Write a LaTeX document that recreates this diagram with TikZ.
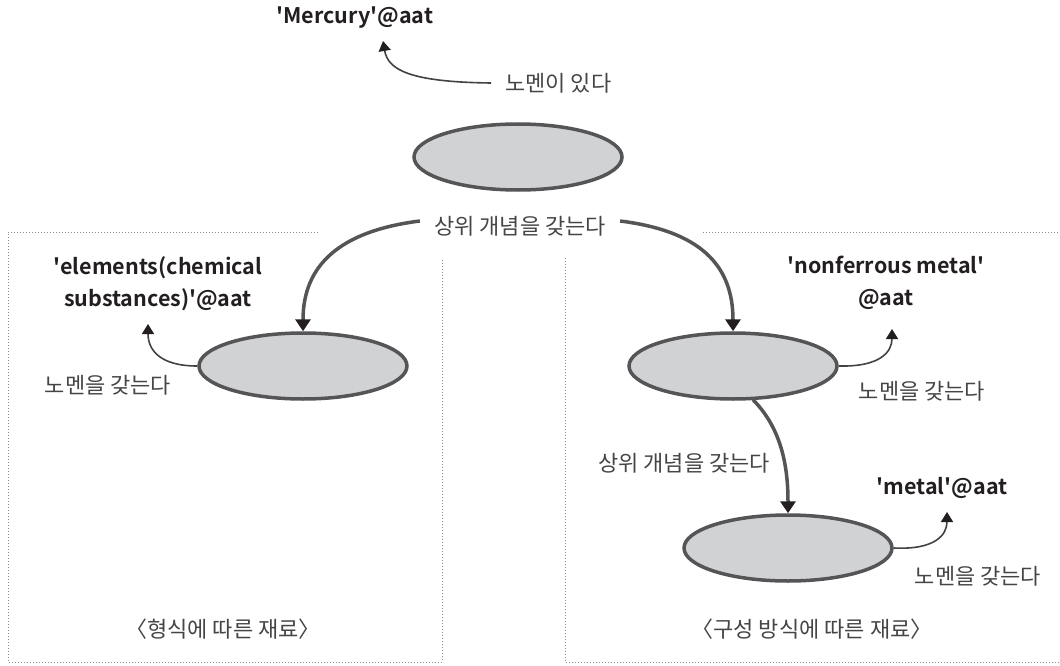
\documentclass[tikz,border=0pt]{standalone}
\usepackage{fontspec}
\setmainfont{Noto Sans CJK KR}
\newfontfamily\boldlbl{Noto Sans CJK KR Bold}
\usetikzlibrary{arrows.meta,shapes.geometric}
\definecolor{edgegray}{HTML}{555557}
\definecolor{fillgray}{HTML}{D1D2D4}
\definecolor{txtgray}{HTML}{454547}
\definecolor{inkdark}{HTML}{231F20}
\definecolor{dotgray}{HTML}{8A8A8C}
\begin{document}
\begin{tikzpicture}[x=1pt,y=-1pt,
  concept/.style={ellipse,draw=edgegray,fill=fillgray,line width=3.5pt,
    minimum width=208pt,minimum height=66pt,inner sep=0pt},
  rel/.style={text=txtgray,font=\fontsize{22}{24}\selectfont,inner sep=0pt},
  term/.style={text=inkdark,font=\boldlbl\fontsize{21.5}{32}\selectfont,
    align=center,inner sep=0pt},
  caption/.style={text=txtgray,font=\fontsize{22}{24}\selectfont,inner sep=0pt},
  bigarrow/.style={draw=edgegray,line width=3.5pt,
    -{Triangle[width=15pt,length=12pt,fill=inkdark,color=inkdark]}},
  smallarrow/.style={draw=inkdark!85,line width=1.6pt,
    -{Triangle[width=12pt,length=10pt,fill=inkdark,color=inkdark]}},
  frame/.style={draw=dotgray,line width=1pt,dash pattern=on 1pt off 2pt}]
\useasboundingbox (0,0) rectangle (1060,666);

% dotted frames of the two groups
\draw[frame] (318,232) -- (8,232) -- (8,662) -- (442,662) -- (442,260);
\draw[frame] (703,232) -- (1060,232);
\draw[frame] (565,258) -- (565,662) -- (1060,662);

% concept ellipses
\node[concept] (top) at (518,157) {};
\node[concept] (left) at (303,366) {};
\node[concept] (right) at (733,366) {};
\node[concept] (low) at (788,548) {};

% terms
\node[term] (mercury) at (355,18) {'Mercury'@aat};
\node[term] (elements) at (158,284) {'elements(chemical\\substances)'@aat};
\node[term] (nonfer) at (886,283) {'nonferrous metal'\\@aat};
\node[term] (metal) at (942,488) {'metal'@aat};

% relation labels
\node[rel,anchor=west] (hasname) at (505,83) {노멘이 있다};
\node[rel] (broader) at (520,226) {상위 개념을 갖는다};
\node[rel] (nameL) at (108,385) {노멘을 갖는다};
\node[rel] (nameR) at (922,391) {노멘을 갖는다};
\node[rel] (broader2) at (684,463) {상위 개념을 갖는다};
\node[rel] (nameLow) at (978,576) {노멘을 갖는다};

% captions
\node[caption] (capL) at (223,629) {〈형식에 따른 재료〉};
\node[caption] (capR) at (812,629) {〈구성 방식에 따른 재료〉};

% arrow ends next to the terms
\coordinate (tipM) at (383,41);
\coordinate (tipE) at (148,324);
\coordinate (tipN) at (892,329);
\coordinate (tipT) at (947,512);

% broader-concept arrows
\draw[bigarrow] ([xshift=-14pt,yshift=5pt]broader.west) .. controls (340,231) and (303,265) .. (left.north);
\draw[bigarrow] ([xshift=14pt,yshift=5pt]broader.east) .. controls (700,231) and (733,265) .. (right.north);
\draw[bigarrow] (right.south) ++(20,-1) .. controls (783,430) and (788,470) .. (low.north);

% name arrows
\draw[smallarrow] ([xshift=-14pt]hasname.west) .. controls (410,82) and (388,70) .. (tipM);
\draw[smallarrow] (left.west) .. controls (160,366) and (148,350) .. (tipE);
\draw[smallarrow] (right.east) .. controls (880,367) and (892,352) .. (tipN);
\draw[smallarrow] (low.east) .. controls (935,550) and (947,535) .. (tipT);
\end{tikzpicture}
\end{document}
